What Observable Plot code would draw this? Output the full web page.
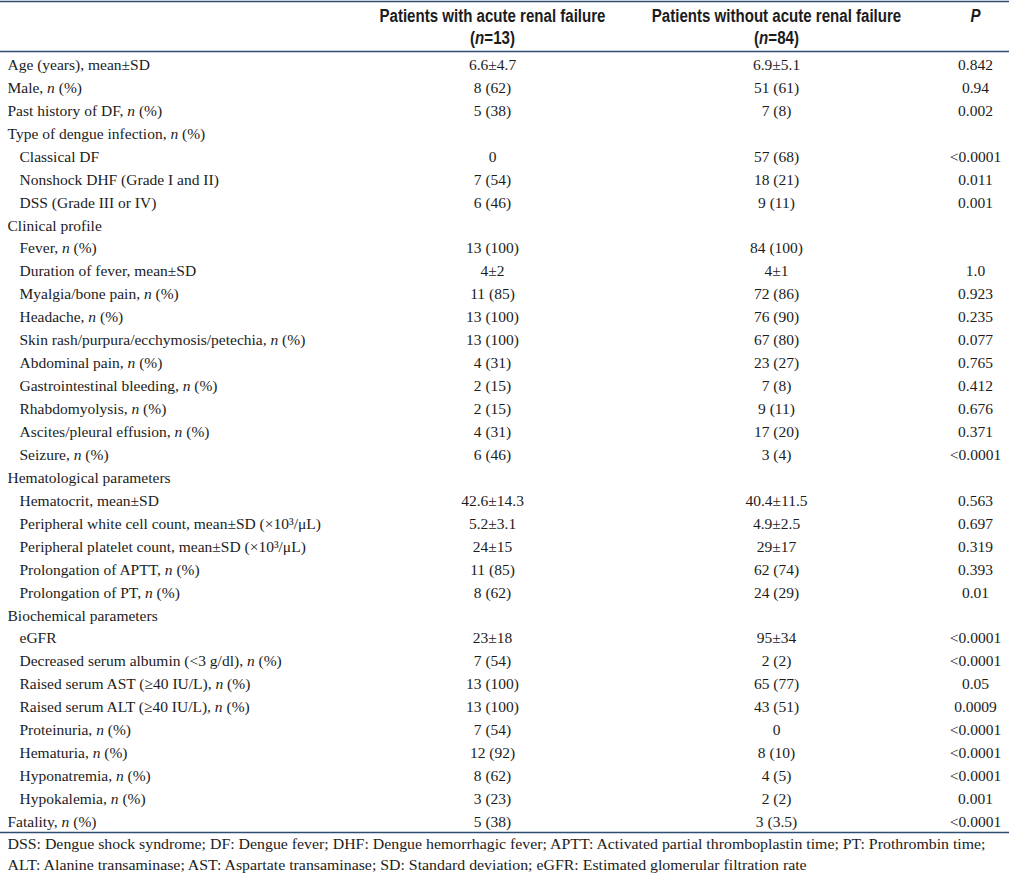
<!DOCTYPE html>
<html><head><meta charset="utf-8">
<script src="https://cdn.jsdelivr.net/npm/d3@7"></script>
<script src="https://cdn.jsdelivr.net/npm/@observablehq/plot@0.6"></script>
<style>
body{margin:0;background:#fff}
#chart svg{display:block}
</style>
</head><body><div id="chart"></div>
<script>
// ---- data ----
const rowLabels = [
  "Age (years), mean±SD",
  "Male, *n* (%)",
  "Past history of DF, *n* (%)",
  "Type of dengue infection, *n* (%)",
  "Classical DF",
  "Nonshock DHF (Grade I and II)",
  "DSS (Grade III or IV)",
  "Clinical profile",
  "Fever, *n* (%)",
  "Duration of fever, mean±SD",
  "Myalgia/bone pain, *n* (%)",
  "Headache, *n* (%)",
  "Skin rash/purpura/ecchymosis/petechia, *n* (%)",
  "Abdominal pain, *n* (%)",
  "Gastrointestinal bleeding, *n* (%)",
  "Rhabdomyolysis, *n* (%)",
  "Ascites/pleural effusion, *n* (%)",
  "Seizure, *n* (%)",
  "Hematological parameters",
  "Hematocrit, mean±SD",
  "Peripheral white cell count, mean±SD (×10³/μL)",
  "Peripheral platelet count, mean±SD (×10³/μL)",
  "Prolongation of APTT, *n* (%)",
  "Prolongation of PT, *n* (%)",
  "Biochemical parameters",
  "eGFR",
  "Decreased serum albumin (<3 g/dl), *n* (%)",
  "Raised serum AST (≥40 IU/L), *n* (%)",
  "Raised serum ALT (≥40 IU/L), *n* (%)",
  "Proteinuria, *n* (%)",
  "Hematuria, *n* (%)",
  "Hyponatremia, *n* (%)",
  "Hypokalemia, *n* (%)",
  "Fatality, *n* (%)"
];
const rowIndent = [0,0,0,0,1,1,1,0,1,1,1,1,1,1,1,1,1,1,0,1,1,1,1,1,0,1,1,1,1,1,1,1,1,0];
const arfValues = [
  "6.6±4.7","8 (62)","5 (38)","","0","7 (54)","6 (46)","",
  "13 (100)","4±2","11 (85)","13 (100)","13 (100)","4 (31)","2 (15)","2 (15)","4 (31)","6 (46)","",
  "42.6±14.3","5.2±3.1","24±15","11 (85)","8 (62)","",
  "23±18","7 (54)","13 (100)","13 (100)","7 (54)","12 (92)","8 (62)","3 (23)","5 (38)"
];
const noArfValues = [
  "6.9±5.1","51 (61)","7 (8)","","57 (68)","18 (21)","9 (11)","",
  "84 (100)","4±1","72 (86)","76 (90)","67 (80)","23 (27)","7 (8)","9 (11)","17 (20)","3 (4)","",
  "40.4±11.5","4.9±2.5","29±17","62 (74)","24 (29)","",
  "95±34","2 (2)","65 (77)","43 (51)","0","8 (10)","4 (5)","2 (2)","3 (3.5)"
];
const pValues = [
  "0.842","0.94","0.002","","<0.0001","0.011","0.001","",
  "","1.0","0.923","0.235","0.077","0.765","0.412","0.676","0.371","<0.0001","",
  "0.563","0.697","0.319","0.393","0.01","",
  "<0.0001","<0.0001","0.05","0.0009","<0.0001","<0.0001","<0.0001","0.001","<0.0001"
];
const columnKeys = ["arf","noArf","p"];
const headerLine1 = ["Patients with acute renal failure","Patients without acute renal failure","*P*"];
const headerLine2 = ["(*n*=13)","(*n*=84)",""];
const footnotes = [
  "DSS: Dengue shock syndrome; DF: Dengue fever; DHF: Dengue hemorrhagic fever; APTT: Activated partial thromboplastin time; PT: Prothrombin time;",
  "ALT: Alanine transaminase; AST: Aspartate transaminase; SD: Standard deviation; eGFR: Estimated glomerular filtration rate"
];

// ---- layout ----
const W = 1009, H = 873;
const colX = {label: 7, indent: 19, arf: 492, noArf: 776, p: 975};
const headerWidth = {arf: 226, noArf: 247};
const footWidth = 978;
const serif = "'Liberation Serif','Times New Roman',serif";
const sans = "'Liberation Sans',Arial,sans-serif";
const ink = "#1c1c1c";
const ruleColor = "#2e4d73";
const bodySize = 15.5;

const rows = rowLabels.map((label, i) => ({
  i, label, level: rowIndent[i],
  arf: arfValues[i], noArf: noArfValues[i], p: pValues[i]
}));
const cells = rows.flatMap(r => columnKeys.map(k => ({i: r.i, col: k, text: r[k]}))).filter(d => d.text !== "");
const header = columnKeys.map((k, j) => ({col: k, l1: headerLine1[j], l2: headerLine2[j]}));

const plot = Plot.plot({
  width: W, height: H,
  marginTop: 53, marginBottom: 40, marginLeft: 0, marginRight: 0,
  x: {type: "linear", domain: [0, W], range: [0, W], axis: null},
  y: {type: "band", domain: d3.range(rows.length), axis: null, padding: 0},
  style: {background: "#fff"},
  marks: [
    Plot.frame({anchor: "top", stroke: ruleColor, strokeWidth: 1.6, dy: -52}),
    Plot.frame({anchor: "top", stroke: ruleColor, strokeWidth: 1.6, dy: -2}),
    Plot.frame({anchor: "bottom", stroke: ruleColor, strokeWidth: 1.6, dy: -1}),
    Plot.text(header, {x: d => colX[d.col], text: "l1", frameAnchor: "top", lineAnchor: "middle", dy: -37,
      fontFamily: sans, fontWeight: "bold", fontSize: 18, fill: ink, className: "hdr1"}),
    Plot.text(header, {x: d => colX[d.col], text: "l2", frameAnchor: "top", lineAnchor: "middle", dy: -15,
      fontFamily: sans, fontWeight: "bold", fontSize: 18, fill: ink, className: "hdr2"}),
    Plot.text(rows, {x: d => d.level ? colX.indent : colX.label, y: "i", text: "label",
      textAnchor: "start", fontFamily: serif, fontSize: bodySize, fill: ink}),
    Plot.text(cells, {x: d => colX[d.col], y: "i", text: "text",
      fontFamily: serif, fontSize: bodySize, fill: ink}),
    Plot.text([footnotes[0]], {x: colX.label, text: d => d, frameAnchor: "bottom", lineAnchor: "middle", dy: 11,
      textAnchor: "start", fontFamily: serif, fontSize: 15.5, fill: ink, className: "foot"}),
    Plot.text([footnotes[1]], {x: colX.label, text: d => d, frameAnchor: "bottom", lineAnchor: "middle", dy: 32,
      textAnchor: "start", fontFamily: serif, fontSize: 15.5, fill: ink, className: "foot"})
  ]
});
document.getElementById("chart").appendChild(plot);

// italic segments marked with *...*
const svgNS = "http://www.w3.org/2000/svg";
plot.querySelectorAll("text, tspan").forEach(el => {
  Array.from(el.childNodes).forEach(node => {
    if (node.nodeType !== 3 || !node.nodeValue.includes("*")) return;
    const parts = node.nodeValue.split("*");
    const frag = document.createDocumentFragment();
    parts.forEach((p, k) => {
      if (!p) return;
      const ts = document.createElementNS(svgNS, "tspan");
      ts.textContent = p;
      if (k % 2 === 1) ts.setAttribute("font-style", "italic");
      frag.appendChild(ts);
    });
    el.replaceChild(frag, node);
  });
});

// condensed header lettering
const h1 = Array.from(plot.querySelectorAll("g.hdr1 text"));
const h2 = Array.from(plot.querySelectorAll("g.hdr2 text"));
const ratio = headerWidth.arf / h1[0].getComputedTextLength();
h1.forEach(t => { t.setAttribute("textLength", t.getComputedTextLength() * ratio); t.setAttribute("lengthAdjust", "spacingAndGlyphs"); });
h2.forEach(t => { const w = t.getComputedTextLength(); if (w > 0) { t.setAttribute("textLength", w * ratio); t.setAttribute("lengthAdjust", "spacingAndGlyphs"); } });

// condensed footnote lettering
const ft = Array.from(plot.querySelectorAll("g.foot text"));
const fr = footWidth / ft[0].getComputedTextLength();
ft.forEach(t => { t.setAttribute("textLength", t.getComputedTextLength() * fr); t.setAttribute("lengthAdjust", "spacingAndGlyphs"); });
</script>
</body></html>
